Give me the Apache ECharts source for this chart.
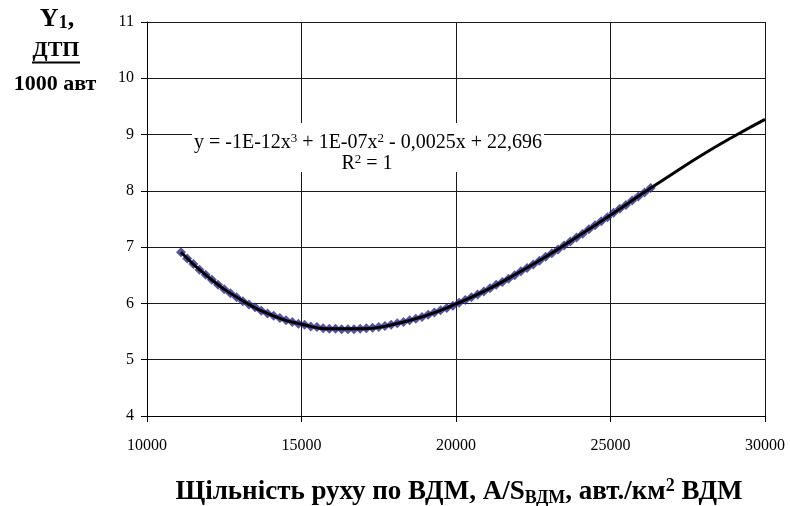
<!DOCTYPE html>
<html>
<head>
<meta charset="utf-8">
<script src="https://cdn.jsdelivr.net/npm/echarts@6/dist/echarts.min.js"></script>
<style>
  html, body { margin: 0; padding: 0; background: #fff; }
  #chart { width: 790px; height: 506px; }
</style>
</head>
<body>
<div id="chart"></div>
<script>
// Traffic density on the road network (veh./km² of network)
const density = [
  11100, 11300, 11500, 11700, 11900, 12100, 12300, 12500, 12700, 12900,
  13100, 13300, 13500, 13700, 13900, 14100, 14300, 14500, 14700, 14900,
  15100, 15300, 15500, 15700, 15900, 16100, 16300, 16500, 16700, 16900,
  17100, 17300, 17500, 17700, 17900, 18100, 18300, 18500, 18700, 18900,
  19100, 19300, 19500, 19700, 19900, 20100, 20300, 20500, 20700, 20900,
  21100, 21300, 21500, 21700, 21900, 22100, 22300, 22500, 22700, 22900,
  23100, 23300, 23500, 23700, 23900, 24100, 24300, 24500, 24700, 24900,
  25100, 25300, 25500, 25700, 25900, 26100, 26300
];
// Accidents per 1000 vehicles (Y1)
const accidentRate = [
  6.91, 6.80, 6.70, 6.60, 6.51, 6.42, 6.33, 6.25, 6.18, 6.11,
  6.04, 5.98, 5.93, 5.87, 5.82, 5.78, 5.74, 5.70, 5.67, 5.64,
  5.62, 5.59, 5.58, 5.56, 5.55, 5.55, 5.54, 5.54, 5.54, 5.55,
  5.56, 5.57, 5.58, 5.60, 5.62, 5.65, 5.67, 5.70, 5.73, 5.76,
  5.80, 5.84, 5.88, 5.92, 5.96, 6.01, 6.06, 6.11, 6.16, 6.21,
  6.27, 6.33, 6.38, 6.44, 6.50, 6.57, 6.63, 6.69, 6.76, 6.83,
  6.89, 6.96, 7.03, 7.10, 7.17, 7.24, 7.32, 7.39, 7.46, 7.53,
  7.61, 7.68, 7.75, 7.83, 7.90, 7.97, 8.05
];
// Polynomial trend line, extended to the right edge
const trendDensity = [
  11100, 12000, 13000, 14000, 15000, 16000, 17000, 18000, 19000, 20000,
  21000, 22000, 23000, 24000, 25000, 26000, 27000, 28000, 29000, 30000
];
const trendRate = [
  6.91, 6.46, 6.08, 5.80, 5.63, 5.55, 5.55, 5.63, 5.78, 5.99,
  6.24, 6.54, 6.86, 7.21, 7.57, 7.94, 8.30, 8.65, 8.97, 9.27
];
// Axis ranges and tick steps
const xRange = [10000, 30000];
const xStep = 5000;
const yRange = [4, 11];
const yStep = 1;

const equationLines = [
  'y = -1E-12x{sup|3} + 1E-07x{sup|2} - 0,0025x + 22,696',
  'R{sup|2} = 1'
];
const xTitle = 'Щільність руху по ВДМ, A/S{sub|ВДМ}, авт./км{sup|2} ВДМ';
const yTitle = ['Y{s|1},', 'ДТП', '1000 авт'];

const serif = '"Liberation Serif", "Times New Roman", serif';

const chart = echarts.init(document.getElementById('chart'), null, { renderer: 'canvas' });

const gridLine = { show: true, lineStyle: { color: '#1a1a1a', width: 1 } };

chart.setOption({
  backgroundColor: '#ffffff',
  animation: false,
  grid: { left: 147, right: 25, top: 22, bottom: 90, containLabel: false },
  xAxis: {
    type: 'value',
    min: xRange[0], max: xRange[1], interval: xStep,
    axisLine: { show: true, onZero: false, lineStyle: { color: '#000', width: 1 } },
    axisTick: { show: true, inside: false, length: 6, lineStyle: { color: '#000' } },
    axisLabel: { color: '#000', fontFamily: serif, fontSize: 16, margin: 22, formatter: v => String(v) },
    splitLine: gridLine
  },
  yAxis: {
    type: 'value',
    min: yRange[0], max: yRange[1], interval: yStep,
    axisLine: { show: true, onZero: false, lineStyle: { color: '#000', width: 1 } },
    axisTick: { show: true, inside: false, length: 6, lineStyle: { color: '#000' } },
    axisLabel: { color: '#000', fontFamily: serif, fontSize: 16, margin: 13, formatter: v => String(v) },
    splitLine: gridLine
  },
  graphic: [
    // equation box
    {
      type: 'rect', z: 10,
      shape: { x: 192, y: 123, width: 352, height: 49 },
      style: { fill: '#ffffff', stroke: null }
    },
    {
      type: 'text', z: 11, x: 368, y: 143,
      style: {
        text: equationLines[0], align: 'center', verticalAlign: 'middle',
        fontFamily: serif, fontSize: 20, lineHeight: 22, fill: '#000',
        rich: { sup: { fontFamily: serif, fontSize: 13, lineHeight: 12, verticalAlign: 'top', fill: '#000' } }
      }
    },
    {
      type: 'text', z: 11, x: 367, y: 164,
      style: {
        text: equationLines[1], align: 'center', verticalAlign: 'middle',
        fontFamily: serif, fontSize: 20, lineHeight: 22, fill: '#000',
        rich: { sup: { fontFamily: serif, fontSize: 13, lineHeight: 12, verticalAlign: 'top', fill: '#000' } }
      }
    },
    // y-axis title
    {
      type: 'text', z: 11, x: 57, y: 19,
      style: {
        text: yTitle[0], align: 'center', verticalAlign: 'middle',
        fontFamily: serif, fontSize: 26, fontWeight: 'bold', lineHeight: 26, fill: '#000',
        rich: { s: { fontFamily: serif, fontSize: 18, fontWeight: 'bold', lineHeight: 22, verticalAlign: 'bottom', fill: '#000' } }
      }
    },
    {
      type: 'text', z: 11, x: 56, y: 50,
      style: {
        text: yTitle[1], align: 'center', verticalAlign: 'middle',
        fontFamily: serif, fontSize: 22, fontWeight: 'bold', fill: '#000'
      }
    },
    {
      type: 'line', z: 11,
      shape: { x1: 32, y1: 62.5, x2: 80, y2: 62.5 },
      style: { stroke: '#000', lineWidth: 2 }
    },
    {
      type: 'text', z: 11, x: 55, y: 84,
      style: {
        text: yTitle[2], align: 'center', verticalAlign: 'middle',
        fontFamily: serif, fontSize: 22, fontWeight: 'bold', fill: '#000'
      }
    },
    // x-axis title
    {
      type: 'text', z: 11, x: 459, y: 492,
      style: {
        text: xTitle, align: 'center', verticalAlign: 'middle',
        fontFamily: serif, fontSize: 27, fontWeight: 'bold', lineHeight: 30, fill: '#000',
        rich: {
          sub: { fontFamily: serif, fontSize: 18, fontWeight: 'bold', lineHeight: 17, verticalAlign: 'bottom', fill: '#000' },
          sup: { fontFamily: serif, fontSize: 18, fontWeight: 'bold', lineHeight: 17, verticalAlign: 'top', fill: '#000' }
        }
      }
    }
  ],
  series: [
    {
      name: 'Y1',
      type: 'scatter',
      data: density.map((x, i) => [x, accidentRate[i]]),
      symbol: 'diamond',
      symbolSize: 10,
      itemStyle: { color: '#2b2b88' },
      z: 2
    },
    {
      name: 'trend',
      type: 'line',
      data: trendDensity.map((x, i) => [x, trendRate[i]]),
      smooth: true,
      showSymbol: false,
      symbol: 'none',
      lineStyle: { color: '#000', width: 3 },
      z: 3
    }
  ]
});
</script>
</body>
</html>
